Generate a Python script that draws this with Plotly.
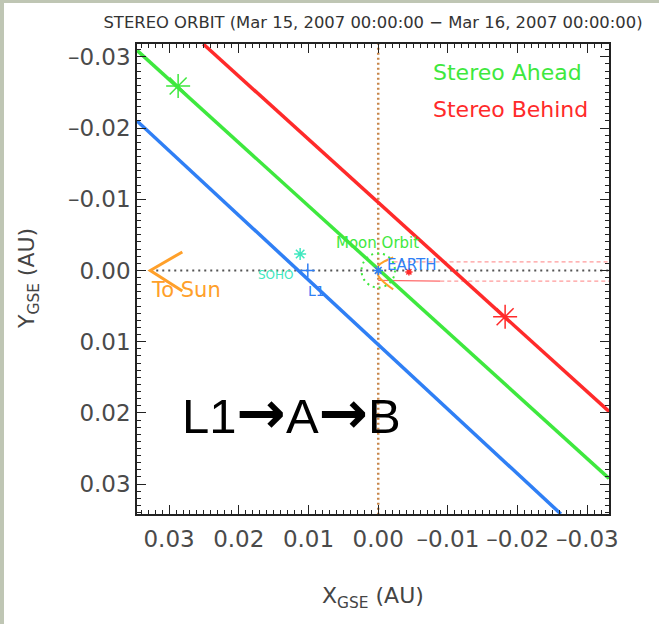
import plotly.graph_objects as go

# ---- data (AU, GSE) ----
ahead_line_x = [0.0346, -0.0331]
ahead_line_y = [-0.0309, 0.0292]
behind_line_x = [0.0251, -0.0331]
behind_line_y = [-0.0318, 0.0198]
l1_line_x = [0.0346, -0.0262]
l1_line_y = [-0.0210, 0.0342]

ahead_pos_x = [0.0287]
ahead_pos_y = [-0.0259]
behind_pos_x = [-0.0182]
behind_pos_y = [0.0065]
soho_x = [0.0112]
soho_y = [-0.0023]
l1_x = [0.0101]
l1_y = [0.0]
earth_x = [0.0]
earth_y = [0.0]
moon_mark_x = [-0.0044]
moon_mark_y = [0.0002]
moon_orbit_radius = 0.0024

bow_x = [-0.00215, -0.00086, -0.00007, 0.00014, -0.00007, -0.00086, -0.00215]
bow_y = [-0.00182, -0.00126, -0.0007, 0.0, 0.00084, 0.00168, 0.00266]

tail_upper_x = [-0.0022, -0.0340]
tail_upper_y = [-0.0012, -0.0012]
tail_lower_solid_x = [0.0, -0.0089]
tail_lower_solid_y = [0.0014, 0.0015]
tail_lower_x = [-0.0089, -0.0340]
tail_lower_y = [0.0015, 0.0015]

sun_arrow_x = [0.0281, 0.0327, 0.0281]
sun_arrow_y = [-0.0026, 0.0, 0.0029]

sun_line_x = [0.0327, -0.0340]
sun_line_y = [0.0, 0.0]
xzero_x = [0.0, 0.0]
xzero_y = [0.0350, -0.0330]

tick_vals = [-0.03, -0.02, -0.01, 0.0, 0.01, 0.02, 0.03]
tick_text = ["–0.03", "–0.02", "–0.01", "0.00", "0.01", "0.02", "0.03"]

x_range = [0.0346, -0.0331]
y_range = [0.0342, -0.0318]

GREEN = "#3ee83e"
RED = "#ff2a2a"
BLUE = "#2f7ff5"
ORANGE = "#ffa02a"
AQUA = "#3fe8bf"
FONT = "DejaVu Sans"

fig = go.Figure()

def line(x, y, color, width, dash="solid", shape="linear"):
    fig.add_trace(go.Scatter(x=x, y=y, mode="lines", hoverinfo="skip",
                             line=dict(color=color, width=width, dash=dash, shape=shape)))

def mark(x, y, color, size, symbol="asterisk-open", width=1.5):
    fig.add_trace(go.Scatter(x=x, y=y, mode="markers", hoverinfo="skip",
                             marker=dict(symbol=symbol, size=size, color=color,
                                         line=dict(color=color, width=width))))

line(sun_line_x, sun_line_y, "#555555", 2, "2px,4px")
line(xzero_x, xzero_y, "#c8864a", 2.5, "2px,3px")
line(tail_upper_x, tail_upper_y, "#ff9a9a", 1.2, "4px,3px")
line(tail_lower_x, tail_lower_y, "#ff9a9a", 1.2, "4px,3px")
line(tail_lower_solid_x, tail_lower_solid_y, "#ff6a6a", 1.2)
line(l1_line_x, l1_line_y, BLUE, 3.5)
line(ahead_line_x, ahead_line_y, GREEN, 3.5)
line(behind_line_x, behind_line_y, RED, 3.5)
line(bow_x, bow_y, ORANGE, 2, shape="spline")
line(sun_arrow_x, sun_arrow_y, ORANGE, 3)

mark(ahead_pos_x, ahead_pos_y, GREEN, 20)
mark(behind_pos_x, behind_pos_y, RED, 20)
mark(soho_x, soho_y, AQUA, 10)
mark(l1_x, l1_y, BLUE, 10, "cross-thin-open")
mark(earth_x, earth_y, BLUE, 8)
mark(moon_mark_x, moon_mark_y, RED, 6)

fig.add_shape(type="circle", xref="x", yref="y",
              x0=-moon_orbit_radius, x1=moon_orbit_radius,
              y0=-moon_orbit_radius, y1=moon_orbit_radius,
              line=dict(color=GREEN, width=2, dash="2px,4px"))

def text(x, y, s, color, size, xanchor="center", ref="data", angle=0, family=FONT):
    fig.add_annotation(x=x, y=y, text=s, showarrow=False,
                       xref="x" if ref == "data" else "paper",
                       yref="y" if ref == "data" else "paper",
                       xanchor=xanchor, yanchor="middle", textangle=angle,
                       font=dict(family=family, size=size, color=color))

text(0.00014, -0.0038, "Moon Orbit", GREEN, 15)
text(-0.0049, -0.0007, "EARTH", BLUE, 15)
text(0.0147, 0.0007, "SOHO", AQUA, 12)
text(0.0089, 0.0029, "L1", BLUE, 14)
text(0.0276, 0.0028, "To Sun", ORANGE, 21)
arrow = '<span style="font-family:DejaVu Sans;font-size:59px;font-weight:bold">→</span>'
text(0.0124, 0.0199, "L1" + arrow + "A" + arrow + "B", "#000000", 49, family="Liberation Sans")

text(0.623, 0.940, "Stereo Ahead", GREEN, 22, xanchor="left", ref="paper")
text(0.623, 0.8596, "Stereo Behind", RED, 22, xanchor="left", ref="paper")

text((28 - 137) / 472, 0.5, "Y<sub>GSE</sub> (AU)", "#444444", 22, ref="paper", angle=-90)
text(0.5, (514 - 597) / 470, "X<sub>GSE</sub> (AU)", "#444444", 22, ref="paper")

# slide background edges
fig.add_shape(type="rect", xref="paper", yref="paper", layer="below",
              x0=(0 - 137) / 472, x1=(4 - 137) / 472, y0=(514 - 624) / 470, y1=(514 - 0) / 470,
              line=dict(width=0), fillcolor="#bfc6b4")
fig.add_shape(type="rect", xref="paper", yref="paper", layer="below",
              x0=(0 - 137) / 472, x1=(659 - 137) / 472, y0=(514 - 3) / 470, y1=(514 - 0) / 470,
              line=dict(width=0), fillcolor="#bfc6b4")

axis_common = dict(
    showgrid=False, zeroline=False, showline=True, linecolor="#222222", linewidth=1.5,
    mirror="ticks", ticks="inside", ticklen=9, tickwidth=1.2, tickcolor="#222222",
    tickmode="array", tickvals=tick_vals, ticktext=tick_text, tickangle=0,
    tickfont=dict(family=FONT, size=23, color="#4a4a4a"),
    minor=dict(ticks="inside", dtick=0.001, tick0=0, ticklen=4, tickwidth=1, tickcolor="#222222"),
)
fig.update_xaxes(range=x_range, ticklabelstandoff=4, **axis_common)
fig.update_yaxes(range=y_range, **axis_common)

fig.update_layout(
    width=659, height=624,
    margin=dict(l=137, r=50, t=44, b=110),
    paper_bgcolor="white", plot_bgcolor="white",
    showlegend=False,
    title=dict(text="STEREO ORBIT (Mar 15, 2007 00:00:00 − Mar 16, 2007 00:00:00)",
               x=0.5, xref="paper", xanchor="center",
               y=1 - 22 / 624, yref="container", yanchor="middle",
               font=dict(family=FONT, size=16.4, color="#333333")),
)

fig.write_html("out.html", config={"displayModeBar": False},
               post_script="document.body.style.margin='0px';")
